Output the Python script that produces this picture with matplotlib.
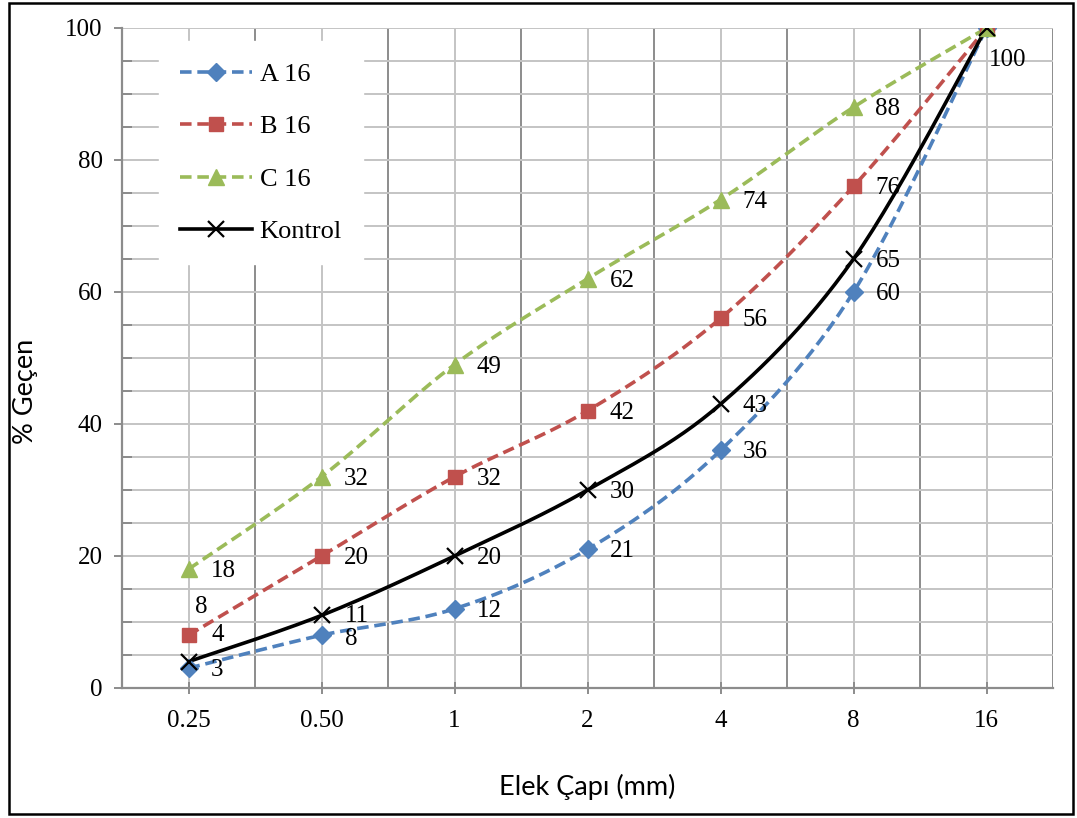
import numpy as np
import matplotlib
matplotlib.use("Agg")
from matplotlib import pyplot as plt
from matplotlib.patches import Rectangle

# sieve sizes and passing percentages
sizes = ["0.25", "0.50", "1", "2", "4", "8", "16"]
a16 = [3, 8, 12, 21, 36, 60, 100]
b16 = [8, 20, 32, 42, 56, 76, 100]
c16 = [18, 32, 49, 62, 74, 88, 100]
kontrol = [4, 11, 20, 30, 43, 65, 100]


def smooth(xs, ys, sx=133.0, sy=6.6, n=30):
    # excel style smoothed line (catmull-rom in screen-ish units)
    p = np.column_stack([np.asarray(xs, float) * sx, np.asarray(ys, float) * sy])
    p = np.vstack([p[0], p, p[-1]])
    out = []
    t = np.linspace(0, 1, n)[:, None]
    for i in range(1, len(p) - 2):
        p0, p1, p2, p3 = p[i - 1], p[i], p[i + 1], p[i + 2]
        c1 = p1 + (p2 - p0) / 6
        c2 = p2 - (p3 - p1) / 6
        seg = ((1 - t) ** 3) * p1 + 3 * ((1 - t) ** 2) * t * c1 + 3 * (1 - t) * t ** 2 * c2 + t ** 3 * p2
        out.append(seg)
    out = np.vstack(out)
    return out[:, 0] / sx, out[:, 1] / sy


fig = plt.figure(figsize=(10.77, 8.18), dpi=100)
ax = fig.add_axes([122 / 1077, 1 - 688 / 818, (1053 - 122) / 1077, (688 - 28) / 818])

x = np.arange(len(sizes))
serif = "Liberation Serif"

series = [
    ("A 16", a16, "#4F81BD", "D", 9, "--"),
    ("B 16", b16, "#C0504D", "s", 10.5, "--"),
    ("C 16", c16, "#9BBB59", "^", 11, "--"),
    ("Kontrol", kontrol, "black", "x", 11, "-"),
]

handles = []
for name, vals, col, mk, ms, ls in series:
    sx, sy = smooth(x, vals)
    ax.plot(sx, sy, color=col, lw=2.6, ls=ls, dashes=(3.2, 1.6) if ls == "--" else (None, None),
            zorder=3, solid_capstyle="butt")
    ax.plot(x, vals, ls="none", marker=mk, ms=ms, color=col, mec=col,
            mew=1.6 if mk == "x" else 1, zorder=4)
    h, = ax.plot([], [], color=col, lw=2.6, ls=ls, marker=mk, ms=ms, mec=col,
                 mew=1.6 if mk == "x" else 1)
    if ls == "--":
        h.set_dashes((3.2, 1.6))
    handles.append(h)

# data labels (right of marker, with a few moved by hand)
offsets = {
    ("B 16", 0): (7, 28),
    ("Kontrol", 0): (23, 27),
    ("A 16", 6): (2, -32),
    ("A 16", 1): (23, -4),
    ("Kontrol", 1): (23, -1),
}
for name, vals, col, mk, ms, ls in series:
    for i, v in enumerate(vals):
        if i == 6 and name != "A 16":
            continue
        dx, dy = offsets.get((name, i), (22, -2))
        ax.annotate(str(v), (x[i], v), xytext=(dx, dy), textcoords="offset pixels",
                    ha="left", va="center", fontsize=18, family=serif, zorder=5)

ax.set_xlim(-0.5, 6.5)
ax.set_ylim(0, 100)
ax.set_xticks(x)
ax.set_xticklabels(sizes, family=serif, fontsize=18)
ax.set_xticks(np.arange(-0.5, 7, 1), minor=True)
ax.set_yticks(np.arange(0, 101, 20))
ax.set_yticklabels([str(v) for v in range(0, 101, 20)], family=serif, fontsize=18)
ax.set_yticks(np.arange(0, 101, 5), minor=True)

ax.grid(which="major", axis="x", color="#C4C4C4", lw=1.4, zorder=0)
ax.grid(which="minor", axis="x", color="#8C8C8C", lw=1.4, zorder=0)
ax.grid(which="both", axis="y", color="#C4C4C4", lw=1.4, zorder=0)
ax.set_axisbelow(True)

ax.tick_params(axis="y", which="major", direction="out", length=6, width=1.4, color="#8C8C8C", pad=8)
ax.tick_params(axis="y", which="minor", direction="in", length=7, width=1.4, color="#8C8C8C")
ax.tick_params(axis="x", which="major", direction="inout", length=8, width=1.4, color="#8C8C8C", pad=12)
ax.tick_params(axis="x", which="minor", length=0)

for s in ["top", "right"]:
    ax.spines[s].set_visible(False)
for s in ["left", "bottom"]:
    ax.spines[s].set_color("#8C8C8C")
    ax.spines[s].set_linewidth(1.6)

ax.set_xlabel("Elek Çapı (mm)", family="Lato", fontsize=19.5, labelpad=30)
ax.set_ylabel("% Geçen", family="Lato", fontsize=19.5, labelpad=16)
ax.yaxis.set_label_coords(-0.090, 0.45)

leg = ax.legend(handles, [s[0] for s in series], loc="upper left", bbox_to_anchor=(0.04, 0.98),
                borderaxespad=0, frameon=True, fancybox=False, edgecolor="white", framealpha=1,
                prop={"family": serif, "size": 19}, handlelength=2.7, labelspacing=1.1,
                borderpad=0.8, handletextpad=0.3)
leg.set_zorder(6)

fig.patches.append(Rectangle((9 / 1077, 1 - 814 / 818), (1073 - 9) / 1077, (814 - 3) / 818,
                             transform=fig.transFigure, fill=False, ec="black", lw=1.8))

fig.savefig("out.png", dpi=100)
